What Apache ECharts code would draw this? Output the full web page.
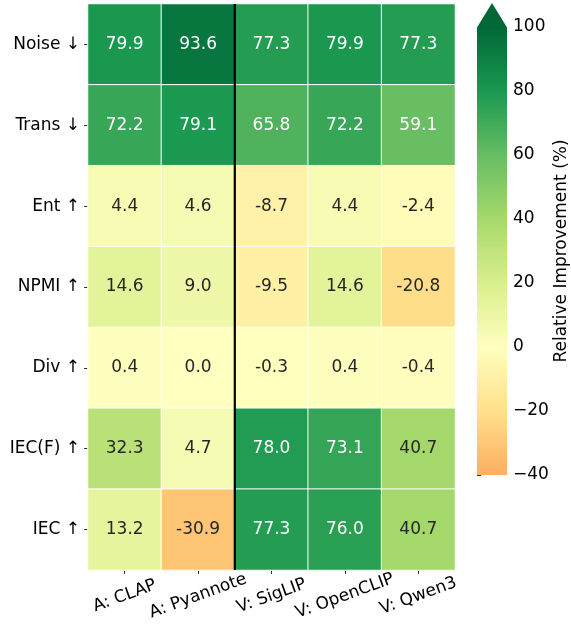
<!DOCTYPE html>
<html>
<head>
<meta charset="utf-8">
<script src="https://cdn.jsdelivr.net/npm/echarts@6/dist/echarts.min.js"></script>
<style>
  html, body { margin: 0; padding: 0; background: #fff; }
  #chart { width: 571px; height: 628px; }
</style>
</head>
<body>
<div id="chart"></div>
<script>
// columns (models) and rows (metrics)
const models = ['A: CLAP', 'A: Pyannote', 'V: SigLIP', 'V: OpenCLIP', 'V: Qwen3']
const metrics = ['Noise ↓', 'Trans ↓', 'Ent ↑', 'NPMI ↑', 'Div ↑', 'IEC(F) ↑', 'IEC ↑']
// one array per row, same order as models
const noise = [79.9, 93.6, 77.3, 79.9, 77.3]
const trans = [72.2, 79.1, 65.8, 72.2, 59.1]
const ent = [4.4, 4.6, -8.7, 4.4, -2.4]
const npmi = [14.6, 9.0, -9.5, 14.6, -20.8]
const div = [0.4, 0.0, -0.3, 0.4, -0.4]
const iecF = [32.3, 4.7, 78.0, 73.1, 40.7]
const iec = [13.2, -30.9, 77.3, 76.0, 40.7]
// colour scale
const scaleMin = -40
const scaleMax = 100
const cmap = ['#fdae61', '#fee08b', '#ffffbf', '#d9ef8b', '#a6d96a', '#66bd63', '#1a9850', '#006837']
// divider between audio and video models
const dividerAt = 2

const rows = [noise, trans, ent, npmi, div, iecF, iec]
const FONT = 'DejaVu Sans'

const cells = []
rows.forEach((vals, r) => {
  vals.forEach((v, c) => {
    cells.push({
      value: [c, r, v],
      label: { color: v > 50 ? '#ffffff' : '#262626' }
    })
  })
})

const chart = echarts.init(document.getElementById('chart'))
chart.setOption({
  animation: false,
  textStyle: { fontFamily: FONT },
  grid: [
    { left: 88, right: 116, top: 4, bottom: 58, outerBoundsMode: 'none' },
    { left: 477, width: 30, top: 27, bottom: 153, outerBoundsMode: 'none' }
  ],
  xAxis: [
    {
      type: 'category',
      gridIndex: 0,
      data: models,
      axisLine: { show: false },
      axisTick: { show: true, length: 4, alignWithLabel: true, lineStyle: { color: '#333' } },
      axisLabel: {
        rotate: 20,
        align: 'center',
        verticalAlign: 'middle',
        margin: 26,
        fontSize: 17,
        color: '#000',
        fontFamily: FONT
      },
      splitLine: { show: false }
    },
    { type: 'value', gridIndex: 1, show: false, min: 0, max: 1 },
    { type: 'value', gridIndex: 0, show: false, min: 0, max: models.length }
  ],
  yAxis: [
    {
      type: 'category',
      gridIndex: 0,
      data: metrics,
      inverse: true,
      axisLine: { show: false },
      axisTick: { show: true, length: 4, alignWithLabel: true, lineStyle: { color: '#333' } },
      axisLabel: { fontSize: 17, color: '#000', margin: 8, fontFamily: FONT },
      splitLine: { show: false }
    },
    {
      type: 'value',
      gridIndex: 1,
      position: 'right',
      min: scaleMin,
      max: scaleMax,
      interval: 20,
      axisLine: { show: false },
      axisTick: { show: true, length: 4, lineStyle: { color: '#333' } },
      axisLabel: {
        fontSize: 17,
        color: '#000',
        margin: 6,
        fontFamily: FONT,
        formatter: (v) => String(v).replace('-', '\u2212')
      },
      splitLine: { show: false },
      name: 'Relative Improvement (%)',
      nameLocation: 'middle',
      nameRotate: 90,
      nameGap: 42,
      nameTextStyle: { fontSize: 17, color: '#000', fontFamily: FONT }
    },
    { type: 'value', gridIndex: 0, show: false, min: 0, max: metrics.length }
  ],
  visualMap: {
    show: false,
    seriesIndex: 0,
    dimension: 2,
    min: scaleMin,
    max: scaleMax,
    inRange: { color: cmap }
  },
  series: [
    {
      type: 'heatmap',
      xAxisIndex: 0,
      yAxisIndex: 0,
      data: cells,
      itemStyle: { borderColor: '#ffffff', borderWidth: 1 },
      label: {
        show: true,
        fontSize: 17,
        fontFamily: FONT,
        formatter: (p) => p.value[2].toFixed(1)
      },
      emphasis: { disabled: true }
    },
    {
      // divider line
      type: 'line',
      xAxisIndex: 2,
      yAxisIndex: 2,
      data: [[dividerAt, 0], [dividerAt, metrics.length]],
      symbol: 'none',
      lineStyle: { color: '#000', width: 2.2 },
      z: 10
    },
    {
      // colourbar with extend arrow
      type: 'custom',
      xAxisIndex: 1,
      yAxisIndex: 1,
      data: [[0, scaleMin, scaleMax]],
      renderItem: (params, api) => {
        const x0 = params.coordSys.x
        const w = params.coordSys.width
        const yTop = api.coord([0, api.value(2)])[1]
        const yBot = api.coord([0, api.value(1)])[1]
        const stops = cmap.slice().reverse().map((c, i) => ({ offset: i / (cmap.length - 1), color: c }))
        return {
          type: 'group',
          children: [
            {
              type: 'rect',
              shape: { x: x0, y: yTop, width: w, height: yBot - yTop },
              style: { fill: new echarts.graphic.LinearGradient(0, 0, 0, 1, stops) }
            },
            {
              type: 'polygon',
              shape: { points: [[x0, yTop + 0.5], [x0 + w / 2, yTop - 24], [x0 + w, yTop + 0.5]] },
              style: { fill: cmap[cmap.length - 1] }
            }
          ]
        }
      }
    }
  ]
})
</script>
</body>
</html>
